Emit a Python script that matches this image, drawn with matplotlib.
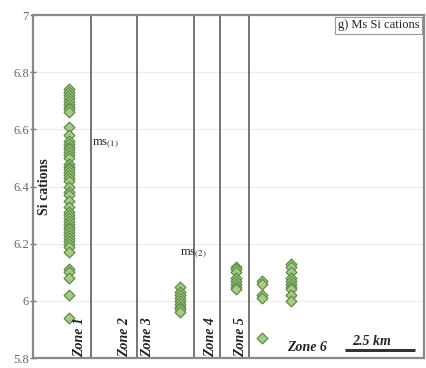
import matplotlib.pyplot as plt
import numpy as np

# Si cations per formula unit in white mica, grouped by zone
zone1_si = [6.74, 6.73, 6.72, 6.71, 6.70, 6.69, 6.68, 6.67, 6.66, 6.61, 6.58, 6.56,
            6.55, 6.54, 6.53, 6.52, 6.51, 6.50, 6.48, 6.47, 6.46, 6.45, 6.44, 6.43,
            6.42, 6.40, 6.38, 6.37, 6.35, 6.33, 6.31, 6.30, 6.29, 6.28, 6.27, 6.26,
            6.25, 6.24, 6.23, 6.22, 6.21, 6.20, 6.19, 6.17, 6.11, 6.10, 6.08, 6.02, 5.94]
zone3_si = [6.05, 6.03, 6.02, 6.01, 6.00, 5.99, 5.98, 5.97, 5.96]
zone5_si = [6.12, 6.11, 6.10, 6.08, 6.07, 6.06, 6.05, 6.04]
zone6a_si = [6.07, 6.06, 6.02, 6.01, 5.87]
zone6b_si = [6.13, 6.12, 6.10, 6.08, 6.07, 6.06, 6.05, 6.04, 6.02, 6.00]

zone_names = ['Zone 1', 'Zone 2', 'Zone 3', 'Zone 4', 'Zone 5']
yticks = [5.8, 6.0, 6.2, 6.4, 6.6, 6.8, 7.0]
ytick_labels = ['5.8', '6', '6.2', '6.4', '6.6', '6.8', '7']

# sample column positions along the profile and zone boundaries
sample_x = [0.92, 3.76, 5.19, 5.86, 6.60]
boundaries = [1.48, 2.66, 4.12, 4.78, 5.52]
zone_label_x = [1.18, 2.35, 2.93, 4.55, 5.30]

plt.rcParams['font.family'] = ['Liberation Serif', 'DejaVu Serif']
plt.rcParams['mathtext.fontset'] = 'stix'

fig = plt.figure(figsize=(4.27, 3.68), dpi=100)
ax = fig.add_axes([0.0773, 0.027, 0.9157, 0.932])

ax.set_xlim(0, 10)
ax.set_ylim(5.8, 7.0)
for y in yticks[1:-1]:
    ax.axhline(y, color='#ececec', lw=0.8, zorder=0)

for b in boundaries:
    ax.axvline(b, color='#6a6a6a', lw=1.3, zorder=1)

groups = [zone1_si, zone3_si, zone5_si, zone6a_si, zone6b_si]
for x, vals in zip(sample_x, groups):
    ax.scatter(np.full(len(vals), x), vals, marker='D', s=30,
               facecolor='#a7c98a', edgecolor='#5e8c45', linewidths=0.9, zorder=3)

for name, x in zip(zone_names, zone_label_x):
    ax.text(x, 5.805, name, rotation=90, ha='center', va='bottom',
            fontsize=10, fontweight='bold', fontstyle='italic', color='#222222')
ax.text(7.0, 5.815, 'Zone 6', ha='center', va='bottom',
        fontsize=10, fontweight='bold', fontstyle='italic', color='#222222')

ax.text(1.5, 6.55, r'ms$_{\mathrm{(1)}}$', ha='left', va='center', fontsize=9, color='#222222')
ax.text(3.75, 6.165, r'ms$_{\mathrm{(2)}}$', ha='left', va='center', fontsize=9, color='#222222')

ax.text(0.3, 6.4, 'Si cations', rotation=90, ha='center', va='center',
        fontsize=10, fontweight='bold', color='#222222')

# scale bar
ax.plot([7.98, 9.78], [5.827, 5.827], color='#333333', lw=2.2, solid_capstyle='butt')
ax.text(8.65, 5.835, '2.5 km', ha='center', va='bottom', fontsize=10,
        fontweight='bold', fontstyle='italic', color='#222222')

ax.text(9.88, 6.985, 'g) Ms Si cations', ha='right', va='top', fontsize=9,
        color='#222222',
        bbox=dict(boxstyle='square,pad=0.2', facecolor='white', edgecolor='#999999', lw=0.8))

ax.set_xticks([])
ax.set_yticks(yticks)
ax.set_yticklabels(ytick_labels)
ax.tick_params(axis='y', direction='inout', length=4, width=1, colors='#777777',
               labelsize=9, labelcolor='#666666', pad=1)
for s in ax.spines.values():
    s.set_color('#8a8a8a')
    s.set_linewidth(1.6)

fig.savefig('out.png', dpi=100)
